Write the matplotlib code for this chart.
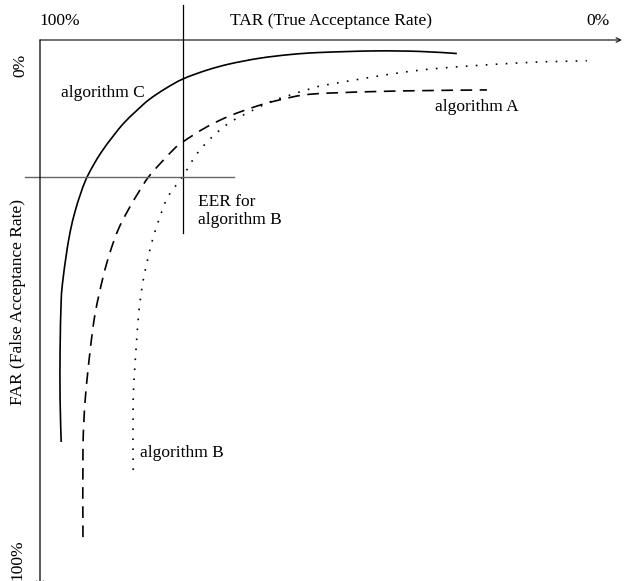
import matplotlib
matplotlib.use("Agg")
import matplotlib.pyplot as plt
from matplotlib.path import Path
from matplotlib.patches import PathPatch

plt.rcParams['font.family'] = ['Liberation Serif', 'DejaVu Serif']

# schematic ROC-like curves: TAR (%) decreasing to the right, FAR (%) increasing downwards
tar_c = [96.2, 96.4, 96.4, 96.2, 95.9, 95.3, 94.6, 93.7, 92.8, 91.8, 90.5, 88.9, 86.9,
         85.0, 82.8, 80.5, 77.6, 74.4, 70.1, 66.0, 60.6, 55.2, 49.8, 40.0, 31.9, 25.3]
far_c = [77.3, 69.2, 59.6, 50.0, 46.2, 41.4, 36.9, 32.9, 29.8, 26.9, 24.2, 21.4, 18.5,
         16.0, 13.7, 11.5, 9.4, 7.5, 5.8, 4.6, 3.5, 2.8, 2.4, 2.1, 2.2, 2.6]

tar_a = [92.3, 92.3, 91.9, 91.0, 90.1, 88.7, 87.5, 86.0, 84.2, 82.4, 80.3, 76.2, 74.4, 70.1,
         66.0, 61.1, 57.0, 52.9, 48.0, 35.5, 19.9]
far_a = [95.6, 78.8, 69.2, 59.6, 52.5, 45.6, 41.0, 36.5, 32.7, 29.4, 26.0, 21.2, 19.6, 16.7,
         14.6, 12.7, 11.5, 10.6, 10.2, 9.8, 9.6]

tar_b = [83.3, 83.3, 82.8, 82.4, 82.1, 81.5, 80.6, 79.7, 78.5, 77.1, 74.4, 71.9, 69.2, 65.9,
         61.1, 58.8, 55.2, 51.6, 48.0, 31.9, 14.0, 2.0]
far_b = [82.7, 69.2, 59.6, 53.8, 50.6, 46.2, 41.7, 37.9, 34.0, 30.2, 26.2, 21.9, 18.7, 15.8,
         13.1, 11.9, 10.6, 9.4, 8.5, 5.8, 4.4, 4.0]

eer_tar = 74.4
eer_far = 26.3


def smooth_path(xs, ys):
    # bezier path through the read points (catmull-rom style control points)
    pts = list(zip(xs, ys))
    verts = [pts[0]]
    codes = [Path.MOVETO]
    n = len(pts)
    for i in range(n - 1):
        p0 = pts[max(i - 1, 0)]
        p1 = pts[i]
        p2 = pts[i + 1]
        p3 = pts[min(i + 2, n - 1)]
        c1 = (p1[0] + (p2[0] - p0[0]) / 6, p1[1] + (p2[1] - p0[1]) / 6)
        c2 = (p2[0] - (p3[0] - p1[0]) / 6, p2[1] - (p3[1] - p1[1]) / 6)
        verts += [c1, c2, p2]
        codes += [Path.CURVE4] * 3
    return Path(verts, codes)


fig = plt.figure(figsize=(6.31, 5.81), dpi=100)
ax = fig.add_axes([40 / 631, 21 / 581, 558 / 631, 520 / 581])
ax.set_xlim(100, 0)
ax.set_ylim(100, 0)
ax.axis('off')

# axes with arrows
ax.annotate('', xy=(-4.3, 0), xytext=(100, 0), annotation_clip=False,
            arrowprops=dict(arrowstyle='->', lw=0.9, color='#222222', shrinkA=0, shrinkB=0,
                            mutation_scale=8))
ax.annotate('', xy=(100, 105.6), xytext=(100, 0), annotation_clip=False,
            arrowprops=dict(arrowstyle='->', lw=0.9, color='black', shrinkA=0, shrinkB=0,
                            mutation_scale=12))

# EER cross lines
ax.plot([eer_tar, eer_tar], [-6.7, 37.1], color='black', lw=0.9, clip_on=False)
ax.plot([102.7, 65.2], [eer_far, eer_far], color='#666666', lw=1.0, clip_on=False)

ax.add_patch(PathPatch(smooth_path(tar_c, far_c), fill=False, color='black', lw=1.2,
                       capstyle='butt', clip_on=False))
ax.add_patch(PathPatch(smooth_path(tar_a, far_a), fill=False, color='black', lw=1.2,
                       linestyle=(0, (7, 4.5)), capstyle='butt', clip_on=False))
ax.add_patch(PathPatch(smooth_path(tar_b, far_b), fill=False, color='black', lw=1.2,
                       linestyle=(0, (1, 5)), capstyle='butt', clip_on=False))

fs = 12.5
ax.text(96.4, -3.7, '100%', fontsize=fs, ha='center', va='center')
ax.text(47.8, -3.7, 'TAR (True Acceptance Rate)', fontsize=fs, ha='center', va='center')
ax.text(0, -3.7, '0%', fontsize=fs, ha='center', va='center')
ax.text(103.6, 4.8, '0%', fontsize=fs, ha='center', va='center', rotation=90)
ax.text(104.0, 50.4, 'FAR (False Acceptance Rate)', fontsize=fs, ha='center', va='center',
        rotation=90)
ax.text(104.0, 100.0, '100%', fontsize=fs, ha='center', va='center', rotation=90)

ax.text(96.2, 10.2, 'algorithm C', fontsize=fs, ha='left', va='center')
ax.text(29.2, 12.9, 'algorithm A', fontsize=fs, ha='left', va='center')
ax.text(82.1, 79.4, 'algorithm B', fontsize=fs, ha='left', va='center')
ax.text(71.7, 32.9, 'EER for\nalgorithm B', fontsize=fs, ha='left', va='center',
        linespacing=1.1)

fig.savefig('out.png', dpi=100)
